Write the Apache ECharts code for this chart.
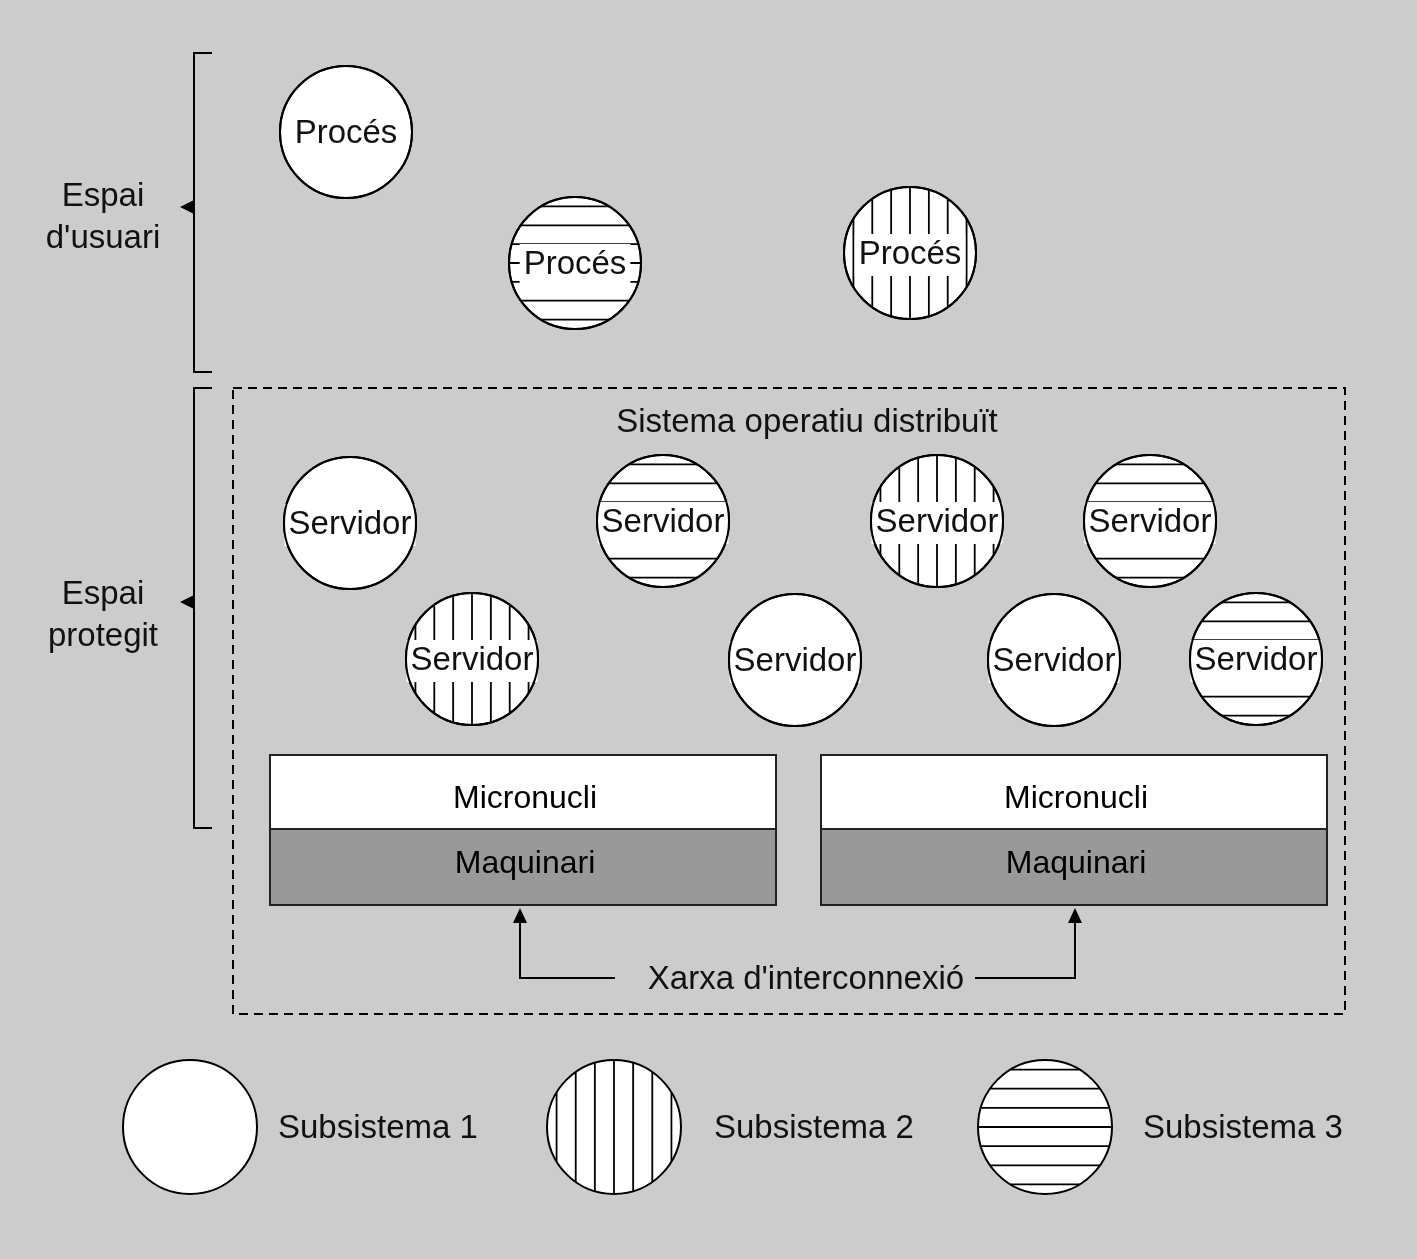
<!DOCTYPE html>
<html><head><meta charset="utf-8">
<script src="https://cdn.jsdelivr.net/npm/echarts@6/dist/echarts.min.js"></script>
<style>html,body{margin:0;padding:0;background:#cccccc}#c{width:1417px;height:1259px}</style>
</head><body><div id="c"></div><script>
// ---------- data ----------
const circleLabels  = ['Procés','Procés','Procés','Servidor','Servidor','Servidor','Servidor','Servidor','Servidor','Servidor','Servidor'];
const circleX       = [346, 575, 910, 350, 663, 937, 1150, 472, 795, 1054, 1256];
const circleY       = [132, 263, 253, 523, 521, 521, 521, 659, 660, 660, 659];
const circlePattern = ['none','h','v','none','h','v','h','v','none','none','h'];
const circleRadius  = 66;

const legendLabels  = ['Subsistema 1','Subsistema 2','Subsistema 3'];
const legendPattern = ['none','v','h'];
const legendX       = [190, 614, 1045];
const legendTextX   = [278, 714, 1143];
const legendY       = 1127;

const bracketLabels = ["Espai\nd'usuari", 'Espai\nprotegit'];
const bracketStart  = [53, 388];
const bracketEnd    = [372, 828];
const bracketMid    = [207, 602];
const bracketLabelY = [218, 616];

const layerNames    = ['Micronucli', 'Maquinari'];
const layerTop      = [755, 829];
const layerBottom   = [829, 905];
const layerTextY    = [799, 864];
const boxLeft       = [270, 821];
const boxRight      = [776, 1327];

const systemTitle   = 'Sistema operatiu distribuït';
const systemTitleY  = 423;
const networkLabel  = "Xarxa d'interconnexió";
const arrowX        = [520, 1075];
const networkY      = 978;
const networkGap    = [615, 975];

const FONT = '"Liberation Sans", Arial, Helvetica, sans-serif';
const INK = '#111111';

function circleGroup(api, cx, cy, rr, pat, label) {
  const c = api.coord([cx, cy]);
  const r = api.size([rr, 0])[0];
  const children = [{
    type: 'circle', shape: { cx: c[0], cy: c[1], r: r },
    style: { fill: '#ffffff', stroke: '#000', lineWidth: 2 }
  }];
  const s = r * 2 / 7;
  if (pat !== 'none') {
    for (let k = -3; k <= 3; k++) {
      const d = k * s;
      const h = Math.sqrt(Math.max(0, r * r - d * d));
      const shape = pat === 'h'
        ? { x1: c[0] - h, y1: c[1] + d, x2: c[0] + h, y2: c[1] + d }
        : { x1: c[0] + d, y1: c[1] - h, x2: c[0] + d, y2: c[1] + h };
      children.push({ type: 'line', shape: shape, style: { stroke: '#000', lineWidth: 1.8 } });
    }
  }
  if (label) {
    children.push({
      type: 'text',
      style: {
        text: label, x: c[0], y: c[1] + 2, align: 'center', verticalAlign: 'middle',
        font: '33px ' + FONT, fill: INK,
        backgroundColor: '#ffffff', padding: [5, 4, 4, 4]
      }
    });
    children.push({
      type: 'circle', shape: { cx: c[0], cy: c[1], r: r },
      style: { fill: 'none', stroke: '#000', lineWidth: 2 }
    });
  }
  return children;
}

const option = {
  backgroundColor: '#cccccc',
  animation: false,
  grid: { left: 0, right: 0, top: 0, bottom: 0 },
  xAxis: { type: 'value', min: 0, max: 1417, show: false },
  yAxis: { type: 'value', min: 0, max: 1259, inverse: true, show: false },
  series: [
    // dashed system box + title
    {
      type: 'custom', data: [[233, 388, 1345, 1014]], silent: true,
      renderItem: function (params, api) {
        const a = api.coord([api.value(0), api.value(1)]);
        const b = api.coord([api.value(2), api.value(3)]);
        const t = api.coord([807, systemTitleY]);
        return { type: 'group', children: [
          { type: 'rect', shape: { x: a[0], y: a[1], width: b[0] - a[0], height: b[1] - a[1] },
            style: { fill: 'none', stroke: '#000', lineWidth: 2, lineDash: [9, 6] } },
          { type: 'text', style: { text: systemTitle, x: t[0], y: t[1], align: 'center', verticalAlign: 'middle',
            font: '33px ' + FONT, fill: INK } }
        ] };
      }
    },
    // brackets
    {
      type: 'custom', silent: true,
      data: bracketStart.map((s, i) => [s, bracketEnd[i], bracketMid[i], bracketLabelY[i]]),
      renderItem: function (params, api) {
        const i = params.dataIndex;
        const top = api.coord([194, api.value(0)]);
        const bot = api.coord([194, api.value(1)]);
        const tickEnd = api.coord([212, 0])[0];
        const mid = api.coord([194, api.value(2)]);
        const tip = api.coord([180, 0])[0];
        const lab = api.coord([103, api.value(3)]);
        return { type: 'group', children: [
          { type: 'polyline', shape: { points: [[tickEnd, top[1]], [top[0], top[1]], [bot[0], bot[1]], [tickEnd, bot[1]]] },
            style: { fill: 'none', stroke: '#000', lineWidth: 2 } },
          { type: 'polygon', shape: { points: [[mid[0], mid[1] - 7], [tip, mid[1]], [mid[0], mid[1] + 7]] },
            style: { fill: '#000' } },
          { type: 'text', style: { text: bracketLabels[i], x: lab[0], y: lab[1], align: 'center', verticalAlign: 'middle',
            font: '33px ' + FONT, fill: INK, lineHeight: 42 } }
        ] };
      }
    },
    // micronucli / maquinari boxes
    {
      type: 'custom', silent: true,
      data: boxLeft.map((l, i) => [l, boxRight[i]]),
      renderItem: function (params, api) {
        const children = [];
        layerNames.forEach(function (name, j) {
          const a = api.coord([api.value(0), layerTop[j]]);
          const b = api.coord([api.value(1), layerBottom[j]]);
          const ty = api.coord([0, layerTextY[j]])[1];
          children.push({ type: 'rect', shape: { x: a[0], y: a[1], width: b[0] - a[0], height: b[1] - a[1] },
            style: { fill: j === 0 ? '#ffffff' : '#999999', stroke: '#222', lineWidth: 2 } });
          children.push({ type: 'text', style: { text: name, x: (a[0] + b[0]) / 2 + 2, y: ty,
            align: 'center', verticalAlign: 'middle', font: '32px ' + FONT, fill: '#000' } });
        });
        return { type: 'group', children: children };
      }
    },
    // network arrows
    {
      type: 'custom', silent: true,
      data: arrowX.map((x, i) => [x, networkGap[i]]),
      renderItem: function (params, api) {
        const base = api.coord([api.value(0), networkY]);
        const end = api.coord([api.value(1), networkY]);
        const tip = api.coord([api.value(0), 908]);
        const children = [
          { type: 'polyline', shape: { points: [[end[0], end[1]], [base[0], base[1]], [tip[0], tip[1] + 12]] },
            style: { fill: 'none', stroke: '#000', lineWidth: 2 } },
          { type: 'polygon', shape: { points: [[tip[0], tip[1]], [tip[0] - 7, tip[1] + 15], [tip[0] + 7, tip[1] + 15]] },
            style: { fill: '#000' } }
        ];
        if (params.dataIndex === 0) {
          const t = api.coord([806, networkY + 2]);
          children.push({ type: 'text', style: { text: networkLabel, x: t[0], y: t[1], align: 'center', verticalAlign: 'middle',
            font: '33px ' + FONT, fill: INK } });
        }
        return { type: 'group', children: children };
      }
    },
    // process / server circles
    {
      type: 'custom', silent: true,
      data: circleX.map((x, i) => [x, circleY[i]]),
      renderItem: function (params, api) {
        const i = params.dataIndex;
        return { type: 'group', children: circleGroup(api, api.value(0), api.value(1), circleRadius, circlePattern[i], circleLabels[i]) };
      }
    },
    // legend
    {
      type: 'custom', silent: true,
      data: legendX.map((x, i) => [x, legendY]),
      renderItem: function (params, api) {
        const i = params.dataIndex;
        const ch = circleGroup(api, api.value(0), api.value(1), 67, legendPattern[i], null);
        const t = api.coord([legendTextX[i], legendY + 2]);
        ch.push({ type: 'text', style: { text: legendLabels[i], x: t[0], y: t[1], align: 'left', verticalAlign: 'middle',
          font: '33px ' + FONT, fill: INK } });
        return { type: 'group', children: ch };
      }
    }
  ]
};
const chart = echarts.init(document.getElementById('c'), null, { renderer: 'canvas' });
chart.setOption(option);
</script></body></html>
